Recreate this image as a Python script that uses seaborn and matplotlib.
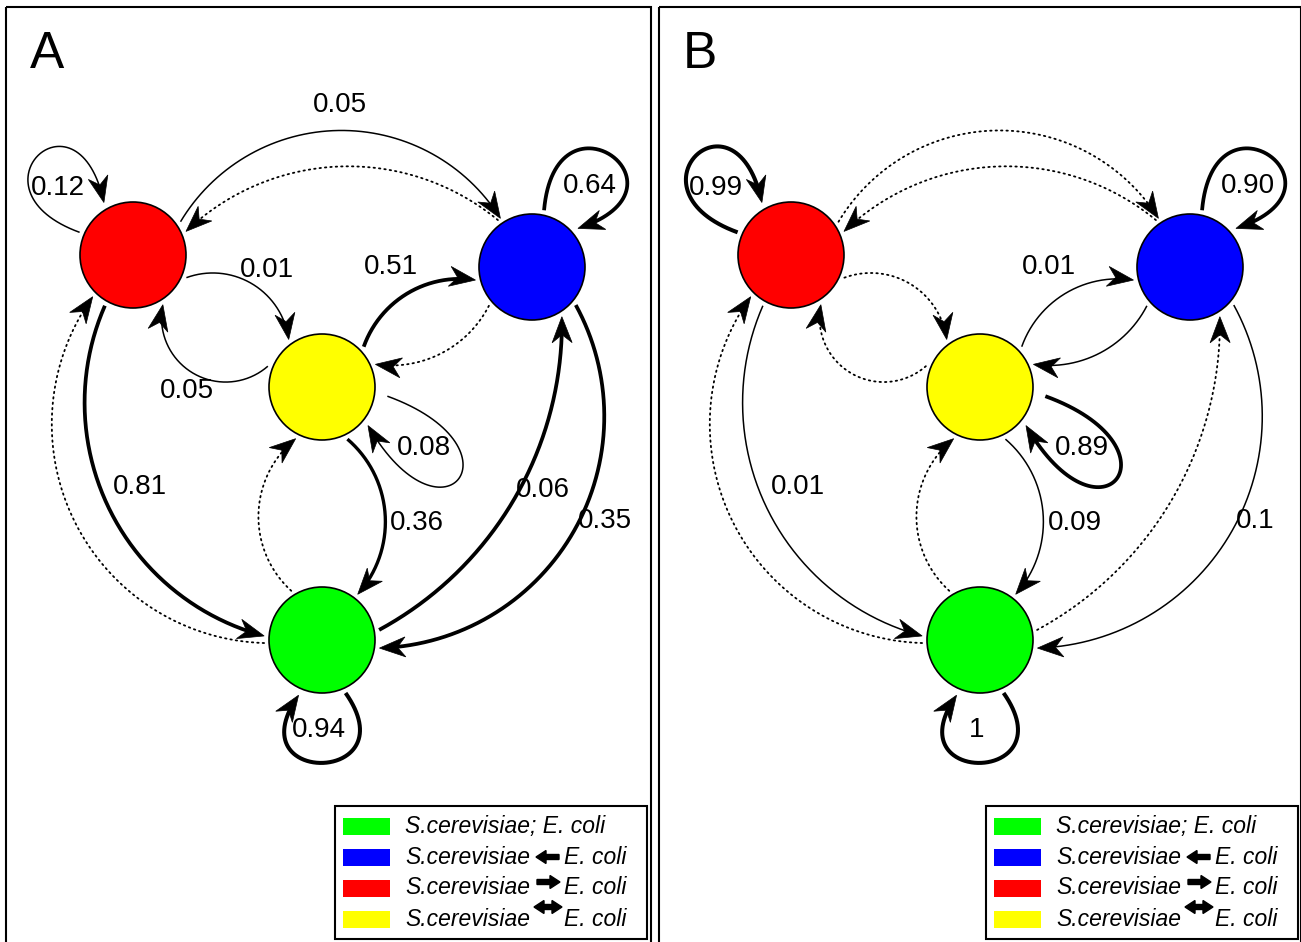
import numpy as np
import pandas as pd
import matplotlib
matplotlib.use('Agg')
import matplotlib.pyplot as plt
import seaborn as sns
from matplotlib.patches import Rectangle, Polygon, FancyArrow

# ---- data -------------------------------------------------------------
states = ['G', 'B', 'R', 'Y']
state_colors = ['#00ff00', '#0000ff', '#ff0000', '#ffff00']
legend_left = ['S.cerevisiae; E. coli', 'S.cerevisiae', 'S.cerevisiae', 'S.cerevisiae']
legend_right = ['', 'E. coli', 'E. coli', 'E. coli']
legend_arrow = ['', 'left', 'right', 'both']

edge_src = ['R', 'B', 'R', 'Y', 'Y', 'B', 'Y', 'G', 'R', 'G', 'G', 'B', 'R', 'B', 'Y', 'G']
edge_dst = ['B', 'R', 'Y', 'R', 'B', 'Y', 'G', 'Y', 'G', 'R', 'B', 'G', 'R', 'B', 'Y', 'G']
# None = transition not observed (dotted), '' = drawn without a number
labels_a = ['0.05', None, '0.01', '0.05', '0.51', None, '0.36', None,
            '0.81', None, '0.06', '0.35', '0.12', '0.64', '0.08', '0.94']
labels_b = [None, None, None, None, '0.01', '', '0.09', None,
            '0.01', None, None, '0.1', '0.99', '0.90', '0.89', '1']
panel_names = ['A', 'B']

# ---- layout / style ---------------------------------------------------
node_xy = {'R': (133, 255), 'B': (532, 267), 'Y': (322, 387), 'G': (322, 640)}
NODE_R = 53
panel_dx = [0, 658]
panel_box = [(6, 651), (659, 1301)]

# arcs: start angle on source, end angle on target, bend (sagitta / chord)
arc_geom = [(35, 123, 0.28), (126, 24, -0.19), (-23, 125, 0.24), (159, -59, 0.36),
            (44, 193, 0.18), (222, 23, 0.16), (-64, 52, 0.21), (122, 243, 0.23),
            (-119, 176, -0.23), (183, 226, 0.3), (10, -59, -0.14), (-41, -8, 0.28)]
# loops: start angle, start dist, start heading, end angle, end back-heading, handle length
loop_geom = [(157, 58, 160, 119, 102, 125), (78, 58, 85, 40, 18, 130),
             (-8, 66, -20, -40, -60, 150), (-66, 58, -55, -113, -125, 112)]
label_pos = [(340, 105), None, (267, 270), (187, 391), (391, 267), None, (417, 523), None,
             (140, 487), None, (543, 490), (578, 521), (58, 188), (590, 186), (424, 448), (319, 730)]
label_ha = ['center'] * 11 + ['left'] + ['center'] * 4
THIN, THICK = 1.1, 2.7
widths_a = [THIN, 1.2, THIN, THIN, THICK, 1.2, 2.4, 1.2, THICK, 1.2, THICK, THICK, THIN, THICK, THIN, 2.9]
widths_b = [1.2, 1.2, 1.2, 1.2, THIN, THIN, THIN, 1.2, THIN, 1.2, 1.2, THIN, 2.9, THICK, THICK, 2.9]


def unit(a):
    a = np.radians(a)
    return np.array([np.cos(a), -np.sin(a)])


def arc_points(p0, p1, bend, n=200):
    d = p1 - p0
    c = np.hypot(*d)
    u = d / c
    nrm = np.array([u[1], -u[0]])
    h = bend * c
    rad = (c ** 2 / 4 + h ** 2) / (2 * abs(h))
    peak = (p0 + p1) / 2 + h * nrm
    cen = peak - np.sign(h) * rad * nrm
    a0 = np.arctan2(*(p0 - cen)[::-1])
    a1 = np.arctan2(*(p1 - cen)[::-1])
    ap = np.arctan2(*(peak - cen)[::-1])
    wrap = lambda x: (x + np.pi) % (2 * np.pi) - np.pi
    d1, dp = wrap(a1 - a0), wrap(ap - a0)
    if not (np.sign(d1) == np.sign(dp) and abs(dp) < abs(d1)):
        d1 = d1 - np.sign(d1) * 2 * np.pi
    t = a0 + d1 * np.linspace(0, 1, n)
    return cen + rad * np.column_stack([np.cos(t), np.sin(t)])


def loop_points(p0, c1, c2, p3, n=200):
    t = np.linspace(0, 1, n)[:, None]
    return ((1 - t) ** 3 * p0 + 3 * (1 - t) ** 2 * t * c1
            + 3 * (1 - t) * t ** 2 * c2 + t ** 3 * p3)


def draw_edge(ax, pts, lw, dotted):
    tip = pts[-1]
    u = pts[-1] - pts[-4]
    u = u / np.hypot(*u)
    keep = np.hypot(*(pts - tip).T) > 12
    line = pts[keep]
    if dotted:
        ax.plot(line[:, 0], line[:, 1], color='black', lw=1.3,
                ls=(0, (0.8, 2.2)), dash_capstyle='round', zorder=2)
    else:
        ax.plot(line[:, 0], line[:, 1], color='black', lw=lw,
                solid_capstyle='butt', zorder=2)
    L, W, notch = 26, 10, 8
    perp = np.array([-u[1], u[0]])
    head = [tip, tip - L * u + W * perp, tip - (L - notch) * u, tip - L * u - W * perp]
    ax.add_patch(Polygon(head, closed=True, fc='black', ec='black', lw=0.5, zorder=3))


sns.set_style('white')
plt.rcParams['font.family'] = ['Liberation Sans', 'DejaVu Sans']
plt.rcParams['text.color'] = 'black'

fig = plt.figure(figsize=(13.01, 9.42), dpi=100)
ax = fig.add_axes([0, 0, 1, 1])

for k, (labels, widths) in enumerate([(labels_a, widths_a), (labels_b, widths_b)]):
    dx = panel_dx[k]
    pos = {s: np.array([x + dx, y], float) for s, (x, y) in node_xy.items()}
    x0, x1 = panel_box[k]
    ax.add_patch(Rectangle((x0, 7), x1 - x0, 960, fill=False, ec='black', lw=1.5, zorder=1))
    ax.text(x0 + 41, 55, panel_names[k], fontsize=37, ha='center', va='center')

    for i, (s, t) in enumerate(zip(edge_src, edge_dst)):
        dotted = labels[i] is None
        if s != t:
            a_s, a_e, bend = arc_geom[i]
            p0 = pos[s] + 58 * unit(a_s)
            p1 = pos[t] + 58 * unit(a_e)
            pts = arc_points(p0, p1, bend)
        else:
            a_s, r_s, h_s, a_e, h_e, L = loop_geom[i - 12]
            p0 = pos[s] + r_s * unit(a_s)
            p3 = pos[s] + 60 * unit(a_e)
            pts = loop_points(p0, p0 + L * unit(h_s), p3 + L * unit(h_e), p3)
        draw_edge(ax, pts, widths[i], dotted)
        if labels[i]:
            lx, ly = label_pos[i]
            ax.text(lx + dx, ly, labels[i], fontsize=20, ha=label_ha[i], va='center')

    nodes = pd.DataFrame({'x': [pos[s][0] for s in states],
                          'y': [pos[s][1] for s in states],
                          'state': states})
    sns.scatterplot(data=nodes, x='x', y='y', hue='state', hue_order=states,
                    palette=state_colors, s=(2 * NODE_R * 0.72) ** 2,
                    edgecolor='black', linewidth=1.2, legend=False, ax=ax, zorder=4)

    # legend box
    lx1 = x1 - 4 if k == 0 else 1298
    lx0 = lx1 - 312
    ax.add_patch(Rectangle((lx0, 806), lx1 - lx0, 133, fc='white', ec='black', lw=1.5, zorder=5))
    for j, st in enumerate(states):
        ry = 826 + j * 31
        ax.add_patch(Rectangle((lx0 + 8, ry - 8.5), 47, 17, fc=state_colors[j], ec='none', zorder=6))
        ax.text(lx0 + 70, ry, legend_left[j], fontsize=16.5, style='italic',
                ha='left', va='center', zorder=6)
        if legend_right[j]:
            ax.text(lx0 + 229, ry, legend_right[j], fontsize=16.5, style='italic',
                    ha='left', va='center', zorder=6)
        ac = lx0 + 213
        kw = dict(width=5, head_width=13, head_length=10, length_includes_head=True,
                  color='black', zorder=6)
        if legend_arrow[j] == 'left':
            ax.add_patch(FancyArrow(ac + 11, ry, -23, 0, **kw))
        elif legend_arrow[j] == 'right':
            ax.add_patch(FancyArrow(ac - 11, ry - 6, 23, 0, **kw))
        elif legend_arrow[j] == 'both':
            ax.add_patch(FancyArrow(ac, ry - 12, -14, 0, **kw))
            ax.add_patch(FancyArrow(ac, ry - 12, 14, 0, **kw))

ax.set_xlim(0, 1301)
ax.set_ylim(942, 0)
ax.axis('off')
fig.savefig('out.png', dpi=100, facecolor='white')
